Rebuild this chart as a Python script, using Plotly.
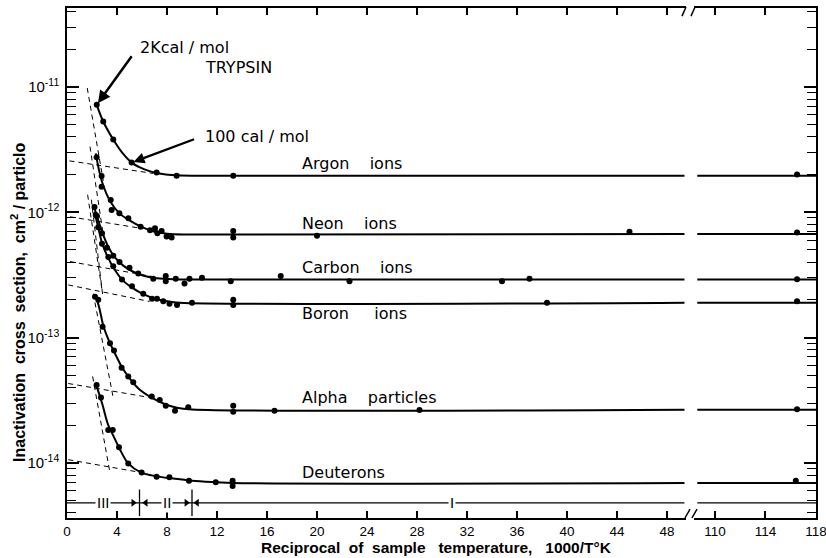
import numpy as np
import plotly.graph_objects as go

# ---------------- data ----------------
argon_x = [2.38, 2.9, 3.7, 5.17, 7.17, 8.77, 13.3]
argon_y = [7.2e-12, 5.3e-12, 3.8e-12, 2.49e-12, 2.08e-12, 1.96e-12, 1.96e-12]
argon_fit_x = [2.38, 2.9, 3.7, 4.4, 5.17, 6.2, 7.17, 8.8, 13.3, 49.4]
argon_fit_y = [7.2e-12, 5.3e-12, 3.8e-12, 3.0e-12, 2.49e-12, 2.2e-12, 2.06e-12, 1.97e-12, 1.96e-12, 1.96e-12]
argon_steep_x = [1.62, 2.9]
argon_steep_y = [9.8e-12, 1.78e-12]
argon_shallow_x = [0.2, 6.9]
argon_shallow_y = [2.57e-12, 2.04e-12]
argon_far_x = [116.5]
argon_far_y = [2.0e-12]

neon_x = [2.37, 2.77, 2.77, 3.5, 3.57, 4.19, 4.91, 5.89, 6.64, 7.04, 7.23, 7.57, 7.97, 8.37, 13.3, 13.3, 20.0, 45.0]
neon_y = [2.75e-12, 1.95e-12, 1.6e-12, 1.25e-12, 1.04e-12, 9.8e-13, 8.95e-13, 7.67e-13, 7.2e-13, 7.45e-13,
          6.8e-13, 7.1e-13, 6.4e-13, 6.3e-13, 7.1e-13, 6.3e-13, 6.5e-13, 7.0e-13]
neon_fit_x = [2.3, 2.8, 3.5, 4.2, 5.0, 6.0, 7.0, 8.0, 9.5, 13.3, 49.4]
neon_fit_y = [2.95e-12, 1.75e-12, 1.2e-12, 9.8e-13, 8.6e-13, 7.6e-13, 7.0e-13, 6.75e-13, 6.65e-13, 6.65e-13, 6.7e-13]
neon_steep_x = [1.84, 2.9]
neon_steep_y = [3.34e-12, 6.6e-13]
neon_shallow_x = [0.24, 5.9]
neon_shallow_y = [9.2e-13, 7.45e-13]
neon_far_x = [116.5]
neon_far_y = [6.9e-13]

carbon_x = [2.2, 2.4, 2.8, 3.2, 3.7, 4.2, 5.0, 5.7, 6.9, 7.9, 7.9, 8.7, 9.4, 9.8, 10.8, 13.1, 17.1, 22.6, 34.8, 37.0]
carbon_y = [1.10e-12, 9.3e-13, 6.8e-13, 5.2e-13, 4.5e-13, 4.0e-13, 3.6e-13, 3.24e-13, 2.95e-13, 3.1e-13,
            2.82e-13, 2.95e-13, 2.7e-13, 2.95e-13, 3.0e-13, 2.82e-13, 3.1e-13, 2.82e-13, 2.82e-13, 2.95e-13]
carbon_fit_x = [2.1, 2.4, 2.8, 3.3, 3.8, 4.5, 5.3, 6.2, 7.2, 8.5, 10.0, 49.4]
carbon_fit_y = [1.15e-12, 9.3e-13, 7.0e-13, 5.3e-13, 4.4e-13, 3.75e-13, 3.35e-13, 3.1e-13, 2.98e-13, 2.92e-13, 2.9e-13, 2.9e-13]
carbon_steep_x = [1.65, 2.8]
carbon_steep_y = [1.38e-12, 2.4e-13]
carbon_shallow_x = [0.24, 6.9]
carbon_shallow_y = [4.04e-13, 3.06e-13]
carbon_far_x = [116.5]
carbon_far_y = [2.92e-13]

boron_x = [2.3, 2.5, 2.8, 3.3, 3.7, 4.4, 5.2, 6.1, 6.8, 7.2, 7.7, 8.2, 8.8, 10.0, 13.3, 13.3, 38.4]
boron_y = [9.5e-13, 7.6e-13, 5.6e-13, 4.4e-13, 3.7e-13, 2.9e-13, 2.57e-13, 2.24e-13, 2.04e-13, 2.04e-13,
           1.95e-13, 1.86e-13, 1.82e-13, 1.9e-13, 2.0e-13, 1.82e-13, 1.9e-13]
boron_fit_x = [2.2, 2.5, 2.8, 3.3, 3.8, 4.4, 5.2, 6.1, 7.0, 8.0, 9.0, 49.4]
boron_fit_y = [1.0e-12, 7.6e-13, 5.7e-13, 4.3e-13, 3.5e-13, 2.9e-13, 2.5e-13, 2.22e-13, 2.05e-13, 1.95e-13, 1.9e-13, 1.9e-13]
boron_steep_x = [1.95, 2.85]
boron_steep_y = [1.26e-12, 2.2e-13]
boron_shallow_x = [0.1, 6.6]
boron_shallow_y = [2.63e-13, 1.94e-13]
boron_far_x = [116.5]
boron_far_y = [1.95e-13]

alpha_x = [2.24, 2.5, 2.85, 3.44, 3.76, 4.37, 4.9, 5.3, 6.78, 7.42, 7.9, 8.64, 9.7, 13.3, 13.3, 16.6, 28.2]
alpha_y = [2.12e-13, 2.0e-13, 1.22e-13, 9.0e-14, 7.9e-14, 5.75e-14, 4.9e-14, 4.4e-14, 3.39e-14, 3.18e-14,
           2.86e-14, 2.61e-14, 2.78e-14, 2.85e-14, 2.56e-14, 2.61e-14, 2.64e-14]
alpha_fit_x = [2.3, 2.6, 2.9, 3.4, 3.8, 4.4, 5.0, 5.8, 6.8, 7.8, 8.8, 10.0, 49.4]
alpha_fit_y = [2.15e-13, 1.7e-13, 1.25e-13, 9.2e-14, 7.6e-14, 5.8e-14, 4.75e-14, 3.85e-14, 3.3e-14, 2.95e-14, 2.75e-14, 2.67e-14, 2.65e-14]
alpha_steep_x = [2.1, 3.7]
alpha_steep_y = [2.24e-13, 3.3e-14]
alpha_shallow_x = [0.1, 6.8]
alpha_shallow_y = [4.3e-14, 3.3e-14]
alpha_far_x = [116.5]
alpha_far_y = [2.68e-14]

deut_x = [2.37, 2.72, 3.3, 3.66, 4.16, 4.9, 5.97, 7.17, 8.19, 9.76, 11.9, 13.25, 13.25]
deut_y = [4.19e-14, 3.32e-14, 1.83e-14, 1.83e-14, 1.33e-14, 9.9e-15, 8.36e-15, 7.76e-15, 7.67e-15,
          7.21e-15, 7.0e-15, 7.21e-15, 6.53e-15]
deut_fit_x = [2.4, 2.8, 3.3, 3.7, 4.2, 4.9, 5.9, 7.2, 8.5, 10.0, 12.0, 13.3, 49.4]
deut_fit_y = [4.0e-14, 3.0e-14, 2.0e-14, 1.65e-14, 1.3e-14, 9.9e-15, 8.4e-15, 7.8e-15, 7.5e-15, 7.2e-15, 7.0e-15, 6.9e-15, 6.9e-15]
deut_steep_x = [2.05, 3.44]
deut_steep_y = [4.9e-14, 8.3e-15]
deut_shallow_x = [0.1, 5.97]
deut_shallow_y = [1.06e-14, 8.36e-15]
deut_far_x = [116.4]
deut_far_y = [7.2e-15]

ion_labels = ["Argon\u00a0\u00a0\u00a0\u00a0ions", "Neon\u00a0\u00a0\u00a0\u00a0ions",
              "Carbon\u00a0\u00a0\u00a0\u00a0ions", "Boron\u00a0\u00a0\u00a0\u00a0\u00a0ions",
              "Alpha\u00a0\u00a0\u00a0\u00a0particles", "Deuterons"]
ion_label_x = 18.64
ion_label_shift = [12, 11, 12, -11, 12, 11]

right_seg_x = [108.6, 118]

# temperature regions
region_y = 4.8e-15
region_left_x = [0, 49.4]
region_right_x = [108.6, 118]
region_dividers = [5.8, 10.0]
region_head_right = [5.3, 9.55]
region_head_left = [6.3, 10.4]
region_labels = ["III", "II", "I"]
region_label_x = [2.9, 8.0, 30.8]

x_ticks_left = list(range(0, 49, 4))
x_ticks_right = [110, 114, 118]
y_major = [1e-14, 1e-13, 1e-12, 1e-11]
y_major_text = ["10<sup>-14</sup>", "10<sup>-13</sup>", "10<sup>-12</sup>", "10<sup>-11</sup>"]

# ---------------- figure ----------------
fig = go.Figure()
BLACK = "black"

series = [
    (argon_x, argon_y, argon_fit_x, argon_fit_y, argon_steep_x, argon_steep_y, argon_shallow_x, argon_shallow_y, argon_far_x, argon_far_y),
    (neon_x, neon_y, neon_fit_x, neon_fit_y, neon_steep_x, neon_steep_y, neon_shallow_x, neon_shallow_y, neon_far_x, neon_far_y),
    (carbon_x, carbon_y, carbon_fit_x, carbon_fit_y, carbon_steep_x, carbon_steep_y, carbon_shallow_x, carbon_shallow_y, carbon_far_x, carbon_far_y),
    (boron_x, boron_y, boron_fit_x, boron_fit_y, boron_steep_x, boron_steep_y, boron_shallow_x, boron_shallow_y, boron_far_x, boron_far_y),
    (alpha_x, alpha_y, alpha_fit_x, alpha_fit_y, alpha_steep_x, alpha_steep_y, alpha_shallow_x, alpha_shallow_y, alpha_far_x, alpha_far_y),
    (deut_x, deut_y, deut_fit_x, deut_fit_y, deut_steep_x, deut_steep_y, deut_shallow_x, deut_shallow_y, deut_far_x, deut_far_y),
]

for (px, py, fx, fy, sx, sy, hx, hy, rx, ry) in series:
    for dx, dy in ((sx, sy), (hx, hy)):
        fig.add_trace(go.Scatter(x=dx, y=dy, mode="lines", xaxis="x", yaxis="y",
                                 line=dict(color=BLACK, width=1, dash="5px,4px"), hoverinfo="skip"))
    fig.add_trace(go.Scatter(x=fx, y=fy, mode="lines", xaxis="x", yaxis="y",
                             line=dict(color=BLACK, width=2, shape="spline", smoothing=1.0)))
    fig.add_trace(go.Scatter(x=px, y=py, mode="markers", xaxis="x", yaxis="y",
                             marker=dict(color=BLACK, size=6)))
    fig.add_trace(go.Scatter(x=right_seg_x, y=[fy[-1]] * 2, mode="lines", xaxis="x2", yaxis="y2",
                             line=dict(color=BLACK, width=2)))
    fig.add_trace(go.Scatter(x=rx, y=ry, mode="markers", xaxis="x2", yaxis="y2",
                             marker=dict(color=BLACK, size=6)))

# region bar
fig.add_trace(go.Scatter(x=region_left_x, y=[region_y] * 2, mode="lines", xaxis="x", yaxis="y",
                         line=dict(color=BLACK, width=1.3)))
fig.add_trace(go.Scatter(x=region_right_x, y=[region_y] * 2, mode="lines", xaxis="x2", yaxis="y2",
                         line=dict(color=BLACK, width=1.3)))
fig.add_trace(go.Scatter(x=region_dividers, y=[region_y] * len(region_dividers), mode="markers",
                         xaxis="x", yaxis="y",
                         marker=dict(symbol="line-ns", size=19, line=dict(color=BLACK, width=1.3))))
fig.add_trace(go.Scatter(x=region_head_right, y=[region_y] * 2, mode="markers", xaxis="x", yaxis="y",
                         marker=dict(symbol="triangle-right", size=7, color=BLACK)))
fig.add_trace(go.Scatter(x=region_head_left, y=[region_y] * 2, mode="markers", xaxis="x", yaxis="y",
                         marker=dict(symbol="triangle-left", size=7, color=BLACK)))

LABEL_FONT = dict(family="DejaVu Sans", size=16, color=BLACK)
annotations = []
for txt, (_, _, _, fy, *_), sh in zip(ion_labels, series, ion_label_shift):
    annotations.append(dict(x=ion_label_x, y=np.log10(fy[-1]), xref="x", yref="y", text=txt,
                            showarrow=False, xanchor="left", yanchor="middle", yshift=sh, font=LABEL_FONT))
for txt, lx in zip(region_labels, region_label_x):
    annotations.append(dict(x=lx, y=np.log10(region_y), xref="x", yref="y", text=txt, showarrow=False,
                            bgcolor="white", borderpad=1, font=dict(family="DejaVu Sans", size=14, color=BLACK)))

# energy annotations
annotations += [
    dict(x=5.68, y=-10.689, xref="x", yref="y", text="2Kcal / mol", showarrow=False,
         xanchor="left", yanchor="middle", font=LABEL_FONT),
    dict(x=10.88, y=-10.848, xref="x", yref="y", text="TRYPSIN", showarrow=False,
         xanchor="left", yanchor="middle", font=LABEL_FONT),
    dict(x=10.88, y=-11.399, xref="x", yref="y", text="100 cal / mol", showarrow=False,
         xanchor="left", yanchor="middle", font=LABEL_FONT),
    dict(x=argon_x[0], y=np.log10(argon_y[0]), xref="x", yref="y", text="", showarrow=True,
         ax=36, ay=-50, arrowhead=2, arrowsize=1, arrowwidth=2.5, arrowcolor=BLACK, standoff=2),
    dict(x=argon_x[3], y=np.log10(argon_y[3]), xref="x", yref="y", text="", showarrow=True,
         ax=64, ay=-24, arrowhead=2, arrowsize=1, arrowwidth=2.2, arrowcolor=BLACK, standoff=2),
    dict(x=0.4927, y=-0.0784, xref="paper", yref="paper", showarrow=False, yanchor="bottom",
         text="<b>Reciprocal\u00a0\u00a0of\u00a0\u00a0sample\u00a0\u00a0\u00a0temperature,\u00a0\u00a0\u00a01000/T°K</b>",
         font=dict(family="Liberation Sans", size=15.5, color=BLACK)),
    dict(x=-0.0655, y=0.4236, xref="paper", yref="paper", showarrow=False, textangle=-90,
         xanchor="center", yanchor="middle",
         text="<b>Inactivation\u00a0\u00a0cross\u00a0\u00a0section,\u00a0\u00a0cm<sup>2</sup> / particlo</b>",
         font=dict(family="Liberation Sans", size=16, color=BLACK)),
]

# axis-break marks
def slash(x0, y0, x1, y1):
    return dict(type="line", xref="paper", yref="paper", x0=x0, y0=y0, x1=x1, y1=y1,
                line=dict(color=BLACK, width=1.5))

shapes = [
    slash(0.8251, 0.0, 0.8318, 0.0176), slash(0.8344, 0.0, 0.8411, 0.0176),
    slash(0.8211, 0.984, 0.8264, 1.002), slash(0.8331, 0.984, 0.8385, 1.002),
]

minor_vals = [k * 10.0 ** e for e in range(-15, -10) for k in range(2, 10)]
yr = [-14.44, -10.37]
tickfont = dict(family="Liberation Sans", size=13.5, color=BLACK)

common_x = dict(ticks="inside", ticklen=7, tickwidth=1.5, tickcolor=BLACK, showline=True,
                linecolor=BLACK, linewidth=1.5, mirror="ticks", showgrid=False, zeroline=False,
                tickfont=tickfont, ticklabelstandoff=0, ticklabeloverflow="allow", automargin=False)
common_y = dict(type="log", range=yr, tickvals=y_major, ticks="inside", ticklen=12, tickwidth=1.5,
                tickcolor=BLACK, showline=True, linecolor=BLACK, linewidth=1.5, showgrid=False,
                zeroline=False, automargin=False,
                minor=dict(tickvals=minor_vals, ticks="inside", ticklen=9, tickwidth=1.3, tickcolor=BLACK,
                           showgrid=False))

fig.update_layout(
    width=826, height=558, margin=dict(l=67, r=10, t=8, b=40, autoexpand=False),
    paper_bgcolor="white", plot_bgcolor="white", showlegend=False,
    font=dict(family="Liberation Sans", color=BLACK, size=13),
    xaxis=dict(domain=[0, 0.8264], range=[0, 49.52], tickvals=x_ticks_left, anchor="y", **common_x),
    xaxis2=dict(domain=[0.8371, 1], range=[108.34, 118], tickvals=x_ticks_right, anchor="y2", **common_x),
    yaxis=dict(anchor="x", side="left", ticktext=y_major_text,
               tickfont=dict(family="Liberation Sans", size=15, color=BLACK),
               ticklabelstandoff=3, **common_y),
    yaxis2=dict(anchor="x2", side="right", showticklabels=False, **common_y),
    annotations=annotations, shapes=shapes,
)

fig.write_html("out.html")
